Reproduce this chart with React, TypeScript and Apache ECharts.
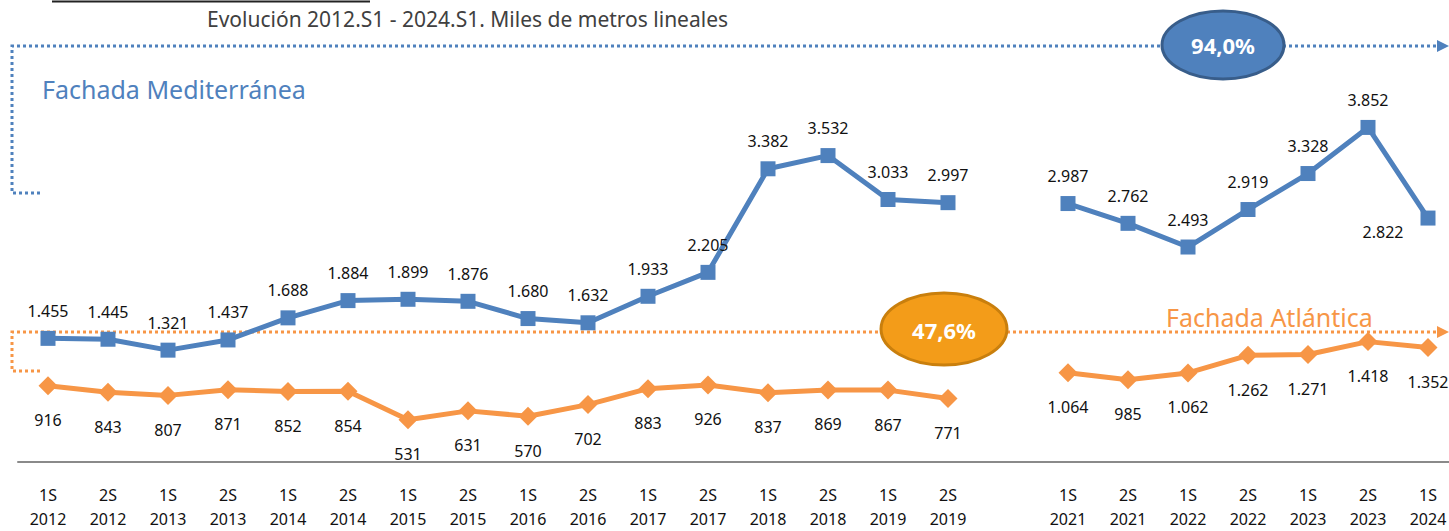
import React, { useEffect, useRef } from "react";
import * as echarts from "echarts";

const categories = [
  "1S\n2012", "2S\n2012", "1S\n2013", "2S\n2013", "1S\n2014", "2S\n2014",
  "1S\n2015", "2S\n2015", "1S\n2016", "2S\n2016", "1S\n2017", "2S\n2017",
  "1S\n2018", "2S\n2018", "1S\n2019", "2S\n2019", "",
  "1S\n2021", "2S\n2021", "1S\n2022", "2S\n2022", "1S\n2023", "2S\n2023", "1S\n2024",
];

const mediterranea = [
  1455, 1445, 1321, 1437, 1688, 1884, 1899, 1876, 1680, 1632, 1933, 2205,
  3382, 3532, 3033, 2997, null,
  2987, 2762, 2493, 2919, 3328, 3852, 2822,
];

const atlantica = [
  916, 843, 807, 871, 852, 854, 531, 631, 570, 702, 883, 926,
  837, 869, 867, 771, null,
  1064, 985, 1062, 1262, 1271, 1418, 1352,
];

const subtitle = "Evolución 2012.S1 - 2024.S1. Miles de metros lineales";
const medLabel = "Fachada Mediterránea";
const atlLabel = "Fachada Atlántica";
const medShare = "94,0%";
const atlShare = "47,6%";

const BLUE = "#4F81BD";
const ORANGE = "#F79646";
const FONT = "'Noto Sans', sans-serif";

function fmt(n: number): string {
  if (n >= 1000) {
    return Math.floor(n / 1000) + "." + String(n % 1000).padStart(3, "0");
  }
  return String(n);
}

export default function App() {
  const ref = useRef<HTMLDivElement>(null);

  useEffect(() => {
    if (!ref.current) return;
    const chart = echarts.init(ref.current, null, { renderer: "svg" });

    const medData = mediterranea.map((v, i) => {
      if (v === null) return null;
      if (i === mediterranea.length - 1) {
        return {
          value: v,
          label: { position: "left", distance: 17, offset: [0, 14] },
        };
      }
      return v;
    });

    const dotted = (pts: number[][], color: string) => ({
      type: "polyline",
      shape: { points: pts },
      style: { stroke: color, lineWidth: 3, lineDash: [3, 3], fill: null },
      silent: true,
    });

    chart.setOption({
      animation: false,
      grid: { left: 18, width: 1440, top: 22, bottom: 64 },
      xAxis: {
        type: "category",
        data: categories,
        boundaryGap: true,
        axisTick: { show: false },
        axisLine: { onZero: false, lineStyle: { color: "#8a8a8a", width: 2 } },
        axisLabel: {
          interval: 0,
          color: "#111",
          fontSize: 16,
          lineHeight: 24,
          margin: 21,
          fontFamily: FONT,
        },
      },
      yAxis: {
        type: "value",
        min: 50,
        max: 5050,
        show: false,
        splitLine: { show: false },
      },
      series: [
        {
          name: medLabel,
          type: "line",
          data: medData,
          connectNulls: false,
          symbol: "rect",
          symbolSize: 15,
          itemStyle: { color: BLUE },
          lineStyle: { color: BLUE, width: 5 },
          z: 3,
          label: {
            show: true,
            position: "top",
            distance: 12,
            color: "#111",
            fontSize: 16,
            fontFamily: FONT,
            formatter: (p: any) => fmt(p.value),
          },
        },
        {
          name: atlLabel,
          type: "line",
          data: atlantica,
          connectNulls: false,
          symbol: "diamond",
          symbolSize: 19,
          itemStyle: { color: ORANGE },
          lineStyle: { color: ORANGE, width: 5 },
          z: 3,
          label: {
            show: true,
            position: "bottom",
            distance: 17,
            color: "#111",
            fontSize: 16,
            fontFamily: FONT,
            formatter: (p: any) => fmt(p.value),
          },
        },
      ],
      graphic: [
        {
          type: "line",
          shape: { x1: 52, y1: 1.5, x2: 370, y2: 1.5 },
          style: { stroke: "#222", lineWidth: 2 },
        },
        {
          type: "text",
          x: 207,
          y: 19,
          style: {
            text: subtitle,
            fill: "#404040",
            font: "21px 'Noto Sans', sans-serif",
            verticalAlign: "middle",
            align: "left",
          },
        },
        dotted([[40, 193], [12, 193], [12, 46], [1437, 46]], BLUE),
        {
          type: "polygon",
          shape: { points: [[1437, 40], [1449, 46], [1437, 52]] },
          style: { fill: BLUE },
        },
        dotted([[40, 371], [12, 371], [12, 332], [1437, 332]], ORANGE),
        {
          type: "polygon",
          shape: { points: [[1437, 326], [1449, 332], [1437, 338]] },
          style: { fill: ORANGE },
        },
        {
          type: "text",
          x: 42,
          y: 89,
          style: {
            text: medLabel,
            fill: BLUE,
            font: "25px 'Noto Sans', sans-serif",
            verticalAlign: "middle",
            align: "left",
          },
        },
        {
          type: "text",
          x: 1166,
          y: 317,
          style: {
            text: atlLabel,
            fill: ORANGE,
            font: "25px 'Noto Sans', sans-serif",
            verticalAlign: "middle",
            align: "left",
          },
          z: 10,
        },
        {
          type: "ellipse",
          shape: { cx: 1223, cy: 45, rx: 61, ry: 34 },
          style: { fill: BLUE, stroke: "#385D8A", lineWidth: 3 },
          z: 20,
        },
        {
          type: "text",
          x: 1223,
          y: 45,
          style: {
            text: medShare,
            fill: "#fff",
            font: "bold 22px 'Noto Sans', sans-serif",
            verticalAlign: "middle",
            align: "center",
          },
          z: 21,
        },
        {
          type: "ellipse",
          shape: { cx: 944, cy: 329, rx: 63, ry: 36 },
          style: { fill: "#F39C19", stroke: "#C97F0D", lineWidth: 3 },
          z: 20,
        },
        {
          type: "text",
          x: 944,
          y: 330,
          style: {
            text: atlShare,
            fill: "#fff",
            font: "bold 22px 'Noto Sans', sans-serif",
            verticalAlign: "middle",
            align: "center",
          },
          z: 21,
        },
      ],
    });

    return () => chart.dispose();
  }, []);

  return (
    <div
      style={{
        position: "fixed",
        left: 0,
        top: 0,
        width: 1449,
        height: 531,
        overflow: "hidden",
        background: "#fff",
      }}
    >
      <div ref={ref} style={{ width: 1470, height: 531 }} />
    </div>
  );
}
